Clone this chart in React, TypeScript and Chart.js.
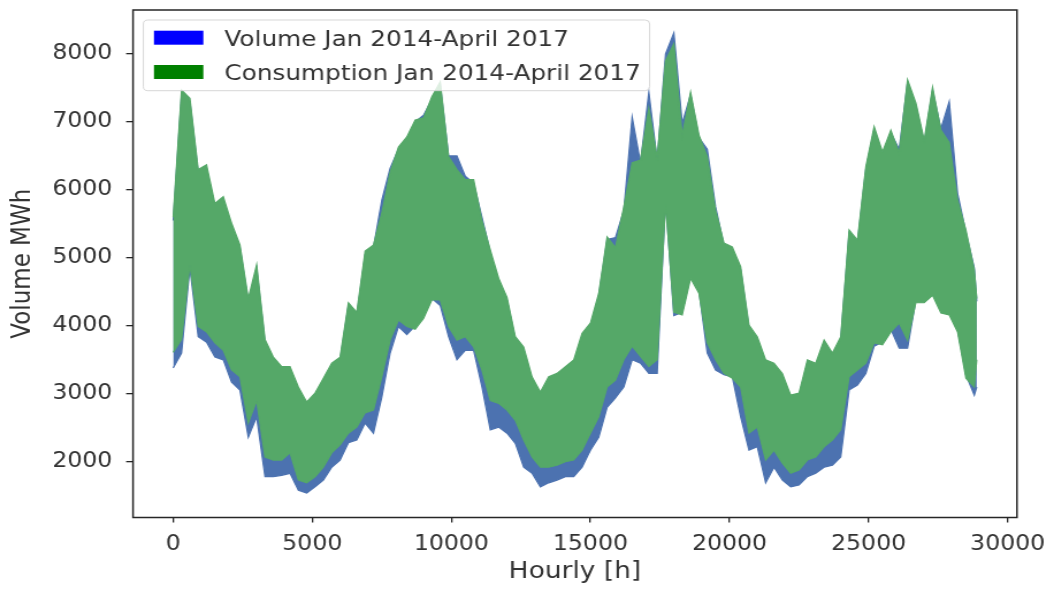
import React, { useEffect, useRef } from "react";
import { Chart, registerables } from "chart.js";

Chart.register(...registerables);

const hours = [
  0, 300, 600, 900, 1200, 1500, 1800, 2100, 2400, 2700,
  3000, 3300, 3600, 3900, 4200, 4500, 4800, 5100, 5400, 5700,
  6000, 6300, 6600, 6900, 7200, 7500, 7800, 8100, 8400, 8700,
  9000, 9300, 9600, 9900, 10200, 10500, 10800, 11100, 11400, 11700,
  12000, 12300, 12600, 12900, 13200, 13500, 13800, 14100, 14400, 14700,
  15000, 15300, 15600, 15900, 16200, 16500, 16800, 17100, 17400, 17700,
  18000, 18300, 18600, 18900, 19200, 19500, 19800, 20100, 20400, 20700,
  21000, 21300, 21600, 21900, 22200, 22500, 22800, 23100, 23400, 23700,
  24000, 24300, 24600, 24900, 25200, 25500, 25800, 26100, 26400, 26700,
  27000, 27300, 27600, 27900, 28200, 28500, 28800, 28890,
];

// Volume (blue): upper and lower envelope of the hourly values, MWh
const volumeHigh = [
  5550, 7400, 7300, 6250, 6300, 5750, 5850, 5450, 5150, 4350,
  4850, 3750, 3500, 3350, 3350, 3050, 2830, 2950, 3180, 3400,
  3500, 4300, 4150, 5050, 5150, 5850, 6320, 6600, 6750, 7000,
  7100, 7330, 7550, 6500, 6500, 6200, 6100, 5600, 5080, 4650,
  4380, 3800, 3650, 3200, 2980, 3200, 3250, 3350, 3450, 3850,
  4000, 4440, 5270, 5300, 5700, 7070, 6400, 7440, 6430, 8000,
  8310, 6980, 7400, 6770, 6600, 5750, 5180, 5120, 4830, 3970,
  3800, 3460, 3410, 3260, 2940, 2970, 3460, 3410, 3750, 3560,
  3800, 5370, 5220, 6300, 6890, 6520, 6840, 6600, 7580, 7240,
  6690, 7470, 6900, 7300, 5950, 5370, 4850, 4360,
];
const volumeLow = [
  3380, 3600, 4850, 3840, 3760, 3540, 3500, 3170, 3055, 2360,
  2660, 1780, 1780, 1800, 1830, 1580, 1540, 1630, 1730, 1920,
  2025, 2280, 2320, 2570, 2420, 2950, 3600, 3990, 3870, 4000,
  4160, 4400, 4300, 3840, 3500, 3640, 3640, 3100, 2470, 2510,
  2420, 2270, 1920, 1830, 1630, 1690, 1730, 1780, 1780, 1920,
  2170, 2360, 2800, 2940, 3100, 3500, 3450, 3300, 3300, 5850,
  4150, 4200, 4750, 4520, 3600, 3350, 3280, 3250, 2660, 2170,
  2220, 1690, 1920, 1730, 1630, 1660, 1780, 1830, 1920, 1950,
  2070, 3055, 3130, 3300, 3700, 3760, 3950, 3670, 3670, 4380,
  4380, 4500, 4230, 4200, 3950, 3280, 2980, 3100,
];

// Consumption (green): upper and lower envelope of the hourly values, MWh
const consumptionHigh = [
  5600, 7470, 7350, 6300, 6370, 5800, 5900, 5510, 5190, 4400,
  4900, 3800, 3540, 3400, 3400, 3100, 2880, 3010, 3230, 3450,
  3540, 4340, 4200, 5100, 5190, 5660, 6260, 6630, 6780, 7030,
  7060, 7370, 7590, 6490, 6300, 6150, 6150, 5550, 5116, 4700,
  4420, 3840, 3690, 3250, 3025, 3250, 3300, 3400, 3500, 3890,
  4040, 4480, 5310, 5150, 5750, 6400, 6440, 7200, 6470, 7900,
  8150, 6800, 7440, 6810, 6490, 5700, 5220, 5160, 4870, 4010,
  3840, 3500, 3450, 3300, 2980, 3010, 3500, 3450, 3790, 3600,
  3840, 5410, 5260, 6340, 6930, 6560, 6880, 6540, 7620, 7280,
  6730, 7510, 6880, 6700, 5850, 5410, 4820, 4400,
];
const consumptionLow = [
  3610, 3800, 4900, 3990, 3910, 3750, 3640, 3350, 3250, 2570,
  2900, 2070, 2025, 2025, 2130, 1730, 1690, 1780, 1920, 2130,
  2250, 2420, 2510, 2720, 2760, 3250, 3790, 4085, 3990, 3950,
  4110, 4380, 4380, 3990, 3790, 3840, 3690, 3350, 2900, 2860,
  2760, 2610, 2320, 2070, 1920, 1920, 1950, 2000, 2025, 2170,
  2420, 2660, 3100, 3200, 3500, 3700, 3550, 3400, 3500, 5800,
  4200, 4160, 4700, 4480, 3750, 3500, 3300, 3230, 3100, 2420,
  2510, 2025, 2170, 1980, 1830, 1880, 2025, 2070, 2220, 2320,
  2470, 3250, 3350, 3450, 3750, 3720, 3910, 4040, 3790, 4340,
  4340, 4450, 4190, 4160, 3910, 3230, 3100, 3500,
];

const xTicks = [0, 5000, 10000, 15000, 20000, 25000, 30000];
const yTicks = [2000, 3000, 4000, 5000, 6000, 7000, 8000];
const legendLabels = ["Volume Jan 2014-April 2017", "Consumption Jan 2014-April 2017"];
const legendColors = ["#0000ff", "#008000"];
const xTitle = "Hourly [h]";
const yTitle = "Volume MWh";

const CANVAS_W = 916;
const CANVAS_H = 593;
const FONT = "'DejaVu Sans', 'Liberation Sans', sans-serif";

export default function App() {
  const ref = useRef<HTMLCanvasElement | null>(null);

  useEffect(() => {
    const canvas = ref.current;
    if (!canvas) return;
    const toPts = (arr: number[]) => arr.map((y, i) => ({ x: hours[i], y }));

    const frameLegend = {
      id: "frameLegend",
      afterDatasetsDraw(chart: any) {
        const { ctx, chartArea: a } = chart;
        ctx.save();
        // axes frame
        ctx.strokeStyle = "#262626";
        ctx.lineWidth = 1.5;
        ctx.strokeRect(a.left, a.top, a.right - a.left, a.bottom - a.top);
        // legend box
        const bx = a.left + 9;
        const by = a.top + 10;
        const bw = 440;
        const bh = 70.7;
        const r = 4;
        ctx.beginPath();
        ctx.moveTo(bx + r, by);
        ctx.lineTo(bx + bw - r, by);
        ctx.quadraticCurveTo(bx + bw, by, bx + bw, by + r);
        ctx.lineTo(bx + bw, by + bh - r);
        ctx.quadraticCurveTo(bx + bw, by + bh, bx + bw - r, by + bh);
        ctx.lineTo(bx + r, by + bh);
        ctx.quadraticCurveTo(bx, by + bh, bx, by + bh - r);
        ctx.lineTo(bx, by + r);
        ctx.quadraticCurveTo(bx, by, bx + r, by);
        ctx.closePath();
        ctx.fillStyle = "rgba(255,255,255,0.8)";
        ctx.fill();
        ctx.strokeStyle = "rgba(204,204,204,0.8)";
        ctx.lineWidth = 1;
        ctx.stroke();
        const rows = [
          { py: by + 10.7, base: by + 25.5 },
          { py: by + 45, base: by + 59.5 },
        ];
        ctx.font = `21.5px ${FONT}`;
        ctx.textBaseline = "alphabetic";
        ctx.textAlign = "left";
        rows.forEach((row, i) => {
          ctx.fillStyle = legendColors[i];
          ctx.fillRect(a.left + 18.2, row.py, 42.9, 14);
          ctx.fillStyle = "#333333";
          ctx.fillText(legendLabels[i], a.left + 79.4, row.base);
        });
        ctx.restore();
      },
    };

    const lineBase = { pointRadius: 0, borderWidth: 1.2, tension: 0 };

    const chart = new Chart(canvas, {
      type: "line",
      data: {
        datasets: [
          { ...lineBase, label: "Consumption high", data: toPts(consumptionHigh), fill: "+1", backgroundColor: "#55A868", borderColor: "#55A868", order: 0 },
          { ...lineBase, label: "Consumption low", data: toPts(consumptionLow), fill: false, borderColor: "#55A868", order: 0 },
          { ...lineBase, label: "Volume high", data: toPts(volumeHigh), fill: "+1", backgroundColor: "#4C72B0", borderColor: "#4C72B0", order: 1 },
          { ...lineBase, label: "Volume low", data: toPts(volumeLow), fill: false, borderColor: "#4C72B0", order: 1 },
        ],
      },
      options: {
        responsive: false,
        animation: false,
        devicePixelRatio: 1,
        events: [],
        layout: { padding: { left: 0, top: 10, right: 32.2, bottom: 0 } },
        plugins: { legend: { display: false }, tooltip: { enabled: false } },
        scales: {
          x: {
            type: "linear",
            min: -1444,
            max: 30334,
            afterBuildTicks: (s: any) => {
              s.ticks = xTicks.map((v) => ({ value: v }));
            },
            afterFit: (s: any) => {
              s.height = 75.5;
              s.paddingLeft = 0;
              s.paddingRight = 0;
            },
            border: { display: false },
            grid: { drawOnChartArea: false, drawTicks: true, tickLength: 5, color: "#262626", lineWidth: 1.3 },
            ticks: {
              autoSkip: false,
              maxRotation: 0,
              padding: 10,
              color: "#333333",
              font: { family: FONT, size: 20.5 },
              callback: (v: any) => String(v),
            },
            title: { display: true, text: xTitle, color: "#333333", font: { family: FONT, size: 23 }, padding: { top: 0, bottom: 7 } },
          },
          y: {
            type: "linear",
            min: 1180,
            max: 8647,
            afterBuildTicks: (s: any) => {
              s.ticks = yTicks.map((v) => ({ value: v }));
            },
            afterFit: (s: any) => {
              s.width = 115.6;
              s.paddingTop = 0;
              s.paddingBottom = 0;
            },
            border: { display: false },
            grid: { drawOnChartArea: false, drawTicks: true, tickLength: 6, color: "#262626", lineWidth: 1.3 },
            ticks: {
              autoSkip: false,
              padding: 12,
              color: "#333333",
              font: { family: FONT, size: 20.5 },
              callback: (v: any) => String(v),
            },
            title: { display: true, text: yTitle, color: "#333333", font: { family: FONT, size: 23 }, padding: { top: 6, bottom: 0 } },
          },
        },
      },
      plugins: [frameLegend],
    } as any);

    return () => chart.destroy();
  }, []);

  return (
    <div style={{ position: "absolute", left: 0, top: 0, width: 1054, height: 593, background: "#ffffff" }}>
      <canvas
        ref={ref}
        width={CANVAS_W}
        height={CANVAS_H}
        style={{ width: "1054px", height: "593px", display: "block" }}
      />
    </div>
  );
}
